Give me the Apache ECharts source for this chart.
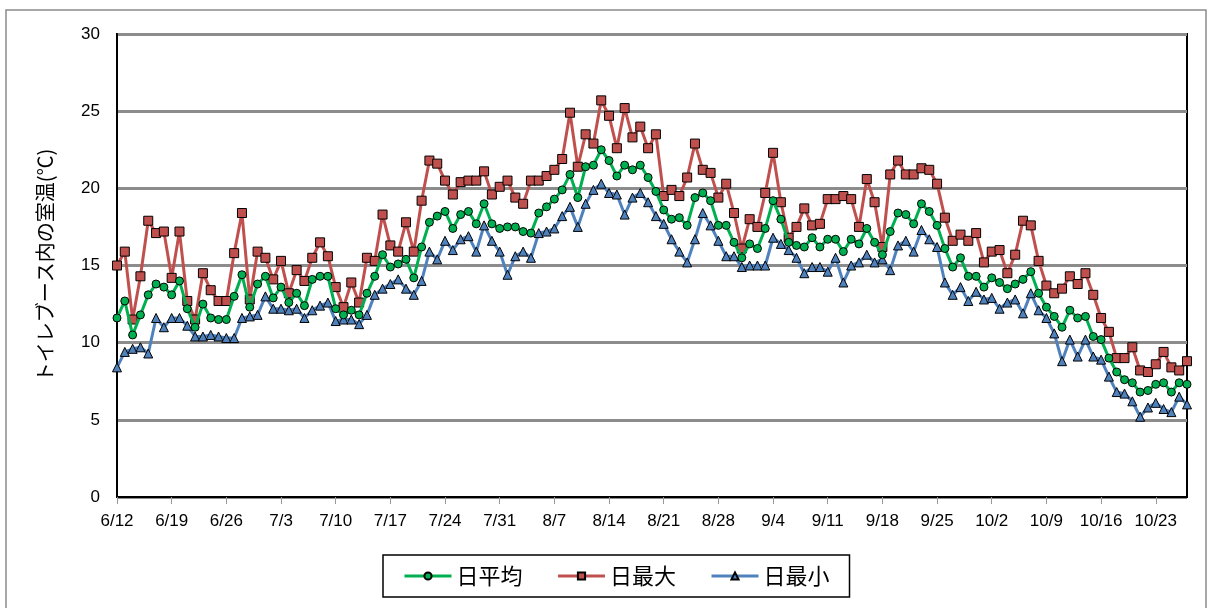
<!DOCTYPE html>
<html>
<head>
<meta charset="utf-8">
<script src="https://cdn.jsdelivr.net/npm/echarts@6/dist/echarts.min.js"></script>
<style>
html,body{margin:0;padding:0;background:#fff;}
#chart{width:1211px;height:608px;}
</style>
</head>
<body>
<div id="chart"></div>
<script>
// Dates: daily from 6/12 to 10/27
const startMonth = 6, startDay = 12, dayCount = 138;
const monthLengths = {6:30, 7:31, 8:31, 9:30, 10:31};
const categories = [];
(function(){
  let m = startMonth, d = startDay;
  for (let i = 0; i < dayCount; i++) {
    categories.push(m + '/' + d);
    d++;
    if (d > monthLengths[m]) { d = 1; m++; }
  }
})();

const yTicks = [0, 5, 10, 15, 20, 25, 30];

const seriesNames = ['日平均', '日最大', '日最小'];

const dailyAvg = [
 11.6,12.7,10.5,11.8,13.1,13.8,13.6,13.1,14.0,12.2,
 11.0,12.5,11.6,11.5,11.5,13.0,14.4,12.3,13.8,14.3,
 12.9,13.6,12.6,13.2,12.4,14.1,14.3,14.3,12.2,11.8,
 12.1,11.8,13.2,14.3,15.7,14.9,15.1,15.4,14.2,16.2,
 17.8,18.2,18.5,17.4,18.3,18.5,17.7,19.0,17.7,17.4,
 17.5,17.5,17.2,17.1,18.4,18.8,19.3,19.9,20.9,19.4,
 21.4,21.5,22.5,21.8,20.8,21.5,21.2,21.5,20.7,19.8,
 18.6,18.0,18.1,17.6,19.4,19.7,19.2,17.6,17.6,16.5,
 15.5,16.4,16.1,17.4,19.2,18.0,16.5,16.3,16.2,16.8,
 16.2,16.7,16.7,15.9,16.7,16.4,17.4,16.5,15.7,17.2,
 18.4,18.3,17.7,19.0,18.5,17.6,16.1,14.9,15.5,14.3,
 14.3,13.6,14.2,13.9,13.5,13.8,14.1,14.6,13.2,12.3,
 11.7,11.0,12.1,11.6,11.7,10.4,10.2,9.0,8.1,7.6,
 7.4,6.8,6.9,7.3,7.4,6.8,7.4,7.3
];

const dailyMax = [
 15.0,15.9,11.5,14.3,17.9,17.1,17.2,14.2,17.2,12.7,
 11.5,14.5,13.4,12.7,12.7,15.8,18.4,12.8,15.9,15.5,
 14.1,15.3,13.2,14.7,14.0,15.5,16.5,15.6,13.6,12.3,
 13.9,12.6,15.5,15.3,18.3,16.3,15.9,17.8,15.9,19.2,
 21.8,21.6,20.5,19.6,20.4,20.5,20.5,21.1,19.6,20.1,
 20.5,19.4,19.0,20.5,20.5,20.8,21.2,21.9,24.9,21.4,
 23.5,22.9,25.7,24.7,22.6,25.2,23.3,24.0,22.6,23.5,
 19.5,19.9,19.5,20.7,22.9,21.2,21.0,19.4,20.3,18.4,
 16.1,18.0,17.5,19.7,22.3,19.1,16.8,17.5,18.7,17.6,
 17.7,19.3,19.3,19.5,19.3,17.5,20.6,19.1,16.2,20.9,
 21.8,20.9,20.9,21.3,21.2,20.3,18.1,16.6,17.0,16.6,
 17.1,15.2,15.9,16.0,14.5,15.7,17.9,17.6,15.3,13.7,
 13.2,13.5,14.3,13.8,14.5,13.1,11.6,10.7,9.0,9.0,
 9.7,8.2,8.1,8.6,9.4,8.4,8.2,8.8
];

const dailyMin = [
 8.4,9.4,9.6,9.7,9.3,11.6,11.0,11.6,11.6,11.1,
 10.4,10.4,10.5,10.4,10.3,10.3,11.6,11.7,11.8,13.0,
 12.2,12.2,12.1,12.2,11.6,12.1,12.4,12.6,11.4,11.5,
 11.5,11.2,11.8,13.1,13.5,13.8,14.1,13.5,13.1,14.0,
 15.9,15.4,16.6,16.0,16.7,16.9,15.9,17.6,16.6,15.9,
 14.4,15.6,15.9,15.5,17.1,17.2,17.4,18.2,18.8,17.5,
 19.0,19.9,20.3,19.7,19.6,18.3,19.4,19.7,19.1,18.2,
 17.7,16.7,15.9,15.2,16.7,18.4,17.6,16.6,15.6,15.6,
 14.9,15.0,15.0,15.0,16.8,16.4,16.0,15.5,14.5,14.9,
 14.9,14.6,15.5,13.9,15.0,15.2,15.7,15.2,15.4,14.7,
 16.3,16.6,15.9,17.3,16.7,16.2,13.9,13.1,13.6,12.7,
 13.3,12.8,12.9,12.2,12.6,12.8,11.9,13.2,12.1,11.6,
 10.6,8.8,10.2,9.1,10.2,9.1,8.9,7.8,6.8,6.7,
 6.2,5.2,5.8,6.1,5.7,5.5,6.5,6.0
];

const colors = ['#00B050', '#C0504D', '#4F81BD'];
const symbols = ['circle', 'rect', 'triangle'];
const symbolSizes = [8, 9, 9];
const seriesData = [dailyAvg, dailyMax, dailyMin];

const chart = echarts.init(document.getElementById('chart'), null, {renderer: 'canvas'});

const series = seriesNames.map((name, i) => ({
  name: name,
  type: 'line',
  data: seriesData[i],
  symbol: symbols[i],
  symbolSize: symbolSizes[i],
  showAllSymbol: true,
  lineStyle: {color: colors[i], width: 3},
  itemStyle: {color: colors[i], borderColor: '#000', borderWidth: 1},
  emphasis: {disabled: true},
  z: i === 0 ? 4 : (i === 1 ? 3 : 2),
  animation: false
}));

chart.setOption({
  animation: false,
  backgroundColor: '#fff',
  textStyle: {fontFamily: 'Liberation Sans, Noto Sans CJK JP, sans-serif'},
  graphic: [{
    type: 'rect',
    shape: {x: 6, y: 10, width: 1200, height: 620},
    style: {fill: 'none', stroke: '#8c8c8c', lineWidth: 1.5},
    silent: true, z: -10
  }],
  grid: {
    left: 117, right: 24, top: 34, bottom: 111,
    show: true, borderColor: '#000', borderWidth: 2, backgroundColor: 'transparent'
  },
  xAxis: {
    type: 'category',
    data: categories,
    boundaryGap: false,
    axisLine: {show: true, lineStyle: {color: '#000', width: 2}},
    axisTick: {show: true, interval: 6, length: 7, lineStyle: {color: '#999', width: 1}},
    axisLabel: {
      interval: 6, margin: 16, color: '#000', fontSize: 17,
      fontFamily: 'Liberation Sans, sans-serif'
    },
    splitLine: {show: false}
  },
  yAxis: {
    type: 'value',
    min: yTicks[0], max: yTicks[yTicks.length - 1], interval: 5,
    name: 'トイレブース内の室温(℃)',
    nameLocation: 'middle',
    nameGap: 62,
    nameRotate: 90,
    nameTextStyle: {fontSize: 20, color: '#000', fontFamily: 'Noto Sans CJK JP, sans-serif'},
    axisLine: {show: true, lineStyle: {color: '#000', width: 2}},
    axisTick: {show: false},
    axisLabel: {color: '#000', fontSize: 17, margin: 17, fontFamily: 'Liberation Sans, sans-serif'},
    splitLine: {show: true, lineStyle: {color: '#8c8c8c', width: 3}}
  },
  legend: {
    data: seriesNames,
    left: 383, top: 555,
    padding: [10, 20, 10, 20],
    itemGap: 34,
    itemWidth: 47, itemHeight: 9,
    borderColor: '#000', borderWidth: 1.5,
    lineStyle: {width: 3},
    textStyle: {fontSize: 22, color: '#000', fontFamily: 'Noto Sans CJK JP, sans-serif'}
  },
  series: series
});
</script>
</body>
</html>
